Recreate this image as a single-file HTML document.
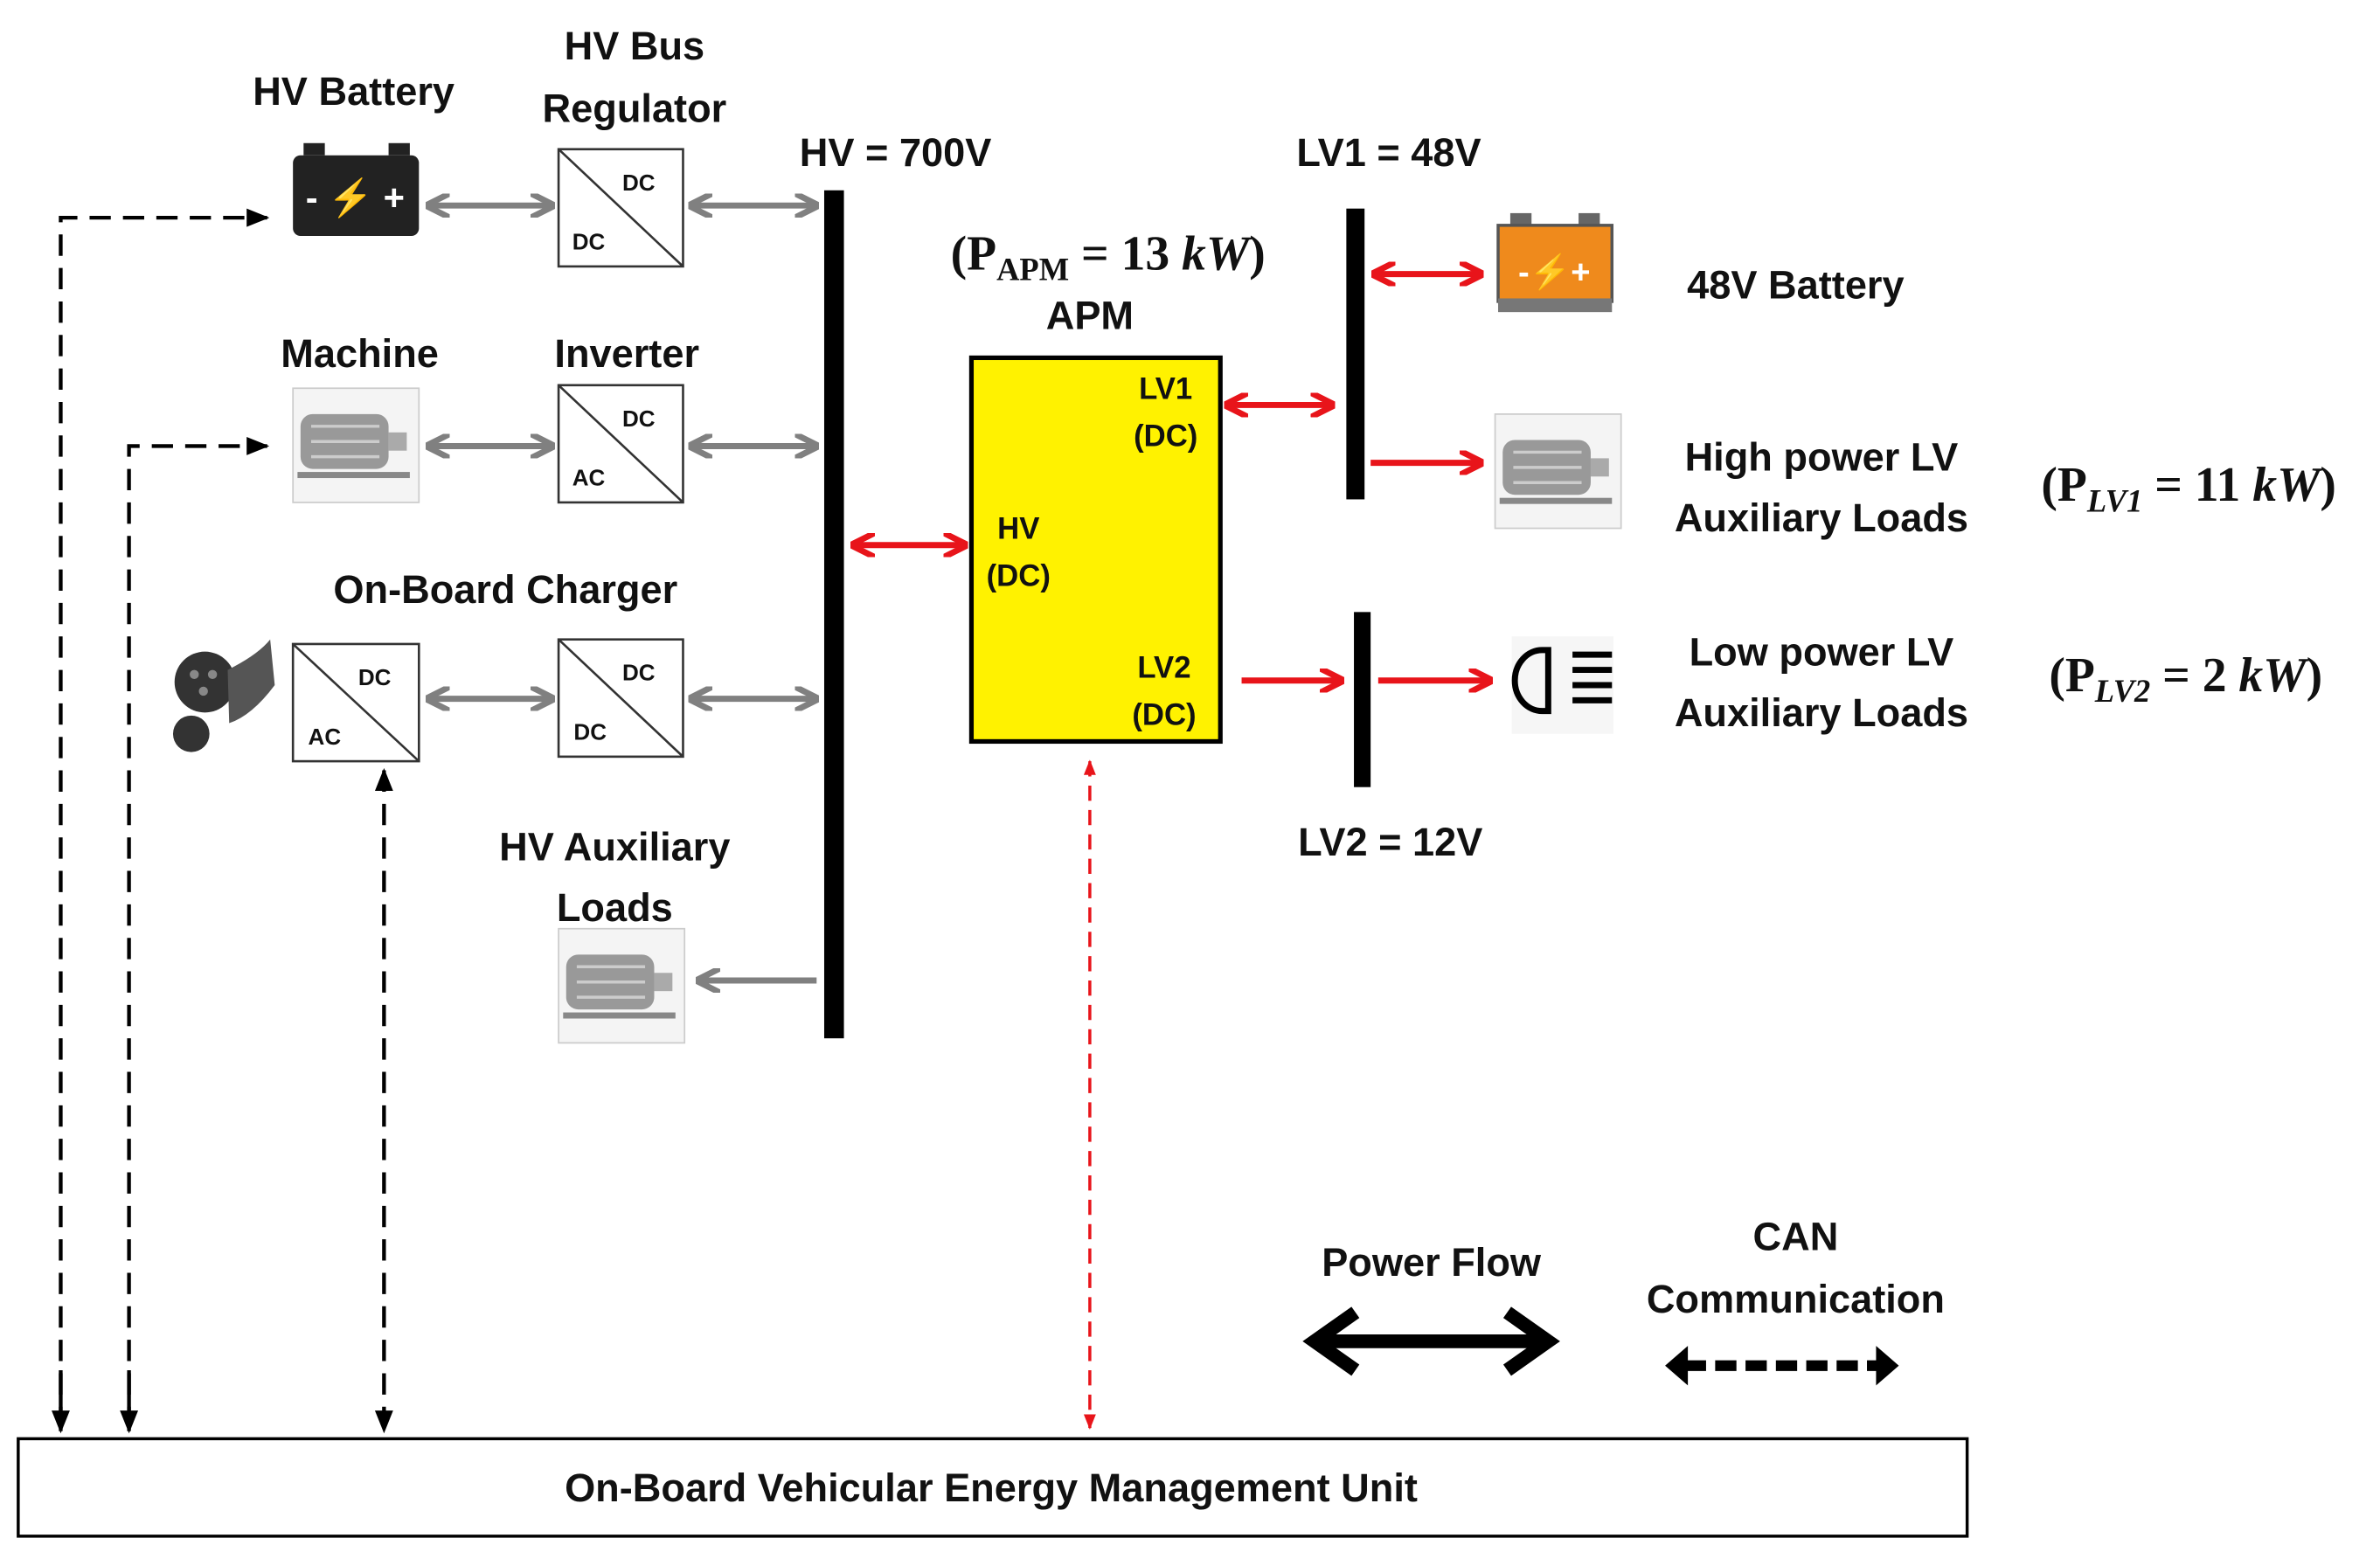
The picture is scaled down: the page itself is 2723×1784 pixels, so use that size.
<!DOCTYPE html>
<html><head><meta charset="utf-8"><style>html,body{margin:0;padding:0;background:#fff}svg{display:block}</style></head>
<body>
<svg width="2723" height="1784" viewBox="0 0 1568 1024" preserveAspectRatio="none" xmlns="http://www.w3.org/2000/svg" font-family="Liberation Sans, sans-serif" font-weight="bold">
<defs>
<marker id="ga" viewBox="0 0 10 10" refX="9" refY="5" markerWidth="4" markerHeight="4" orient="auto-start-reverse"><path d="M0,0 L10,5 L0,10" fill="none" stroke="#808080" stroke-width="2.5"/></marker>
<marker id="ra" viewBox="0 0 10 10" refX="9" refY="5" markerWidth="4" markerHeight="4" orient="auto-start-reverse"><path d="M0,0 L10,5 L0,10" fill="none" stroke="#e8141a" stroke-width="2.5"/></marker>
<marker id="rs" viewBox="0 0 10 10" refX="9" refY="5" markerWidth="5" markerHeight="5" orient="auto-start-reverse"><path d="M0,1 L10,5 L0,9z" fill="#e8141a"/></marker>
<marker id="bs" viewBox="0 0 10 10" refX="9" refY="5" markerWidth="6" markerHeight="6" orient="auto-start-reverse"><path d="M0,1 L10,5 L0,9z" fill="#000"/></marker>
</defs>
<g font-size="26" text-anchor="middle" fill="#111">
<text x="233" y="69">HV Battery</text>
<text x="418" y="39">HV Bus</text>
<text x="418" y="80">Regulator</text>
<text x="237" y="241">Machine</text>
<text x="413" y="241">Inverter</text>
<text x="333" y="396">On-Board Charger</text>
<text x="405" y="565">HV Auxiliary</text>
<text x="405" y="605">Loads</text>
<text x="590" y="109">HV = 700V</text>
<text x="915" y="109">LV1 = 48V</text>
<text x="916" y="562">LV2 = 12V</text>
<text x="718" y="216">APM</text>
<text x="1183" y="196">48V Battery</text>
<text x="1200" y="309">High power LV</text>
<text x="1200" y="349">Auxiliary Loads</text>
<text x="1200" y="437">Low power LV</text>
<text x="1200" y="477">Auxiliary Loads</text>
<text x="943" y="838">Power Flow</text>
<text x="1183" y="821">CAN</text>
<text x="1183" y="862">Communication</text>
</g>
<g font-family="Liberation Serif, serif" font-size="32" text-anchor="middle" fill="#111">
<text x="730" y="177">(P<tspan font-size="21" dy="7">APM</tspan><tspan dy="-7"> = 13 </tspan><tspan font-style="italic">kW</tspan>)</text>
<text x="1442" y="329">(P<tspan font-size="21" dy="7" font-style="italic">LV1</tspan><tspan dy="-7"> = 11 </tspan><tspan font-style="italic">kW</tspan>)</text>
<text x="1440" y="454">(P<tspan font-size="21" dy="7" font-style="italic">LV2</tspan><tspan dy="-7"> = 2 </tspan><tspan font-style="italic">kW</tspan>)</text>
</g>
<rect x="543" y="125" width="13" height="557" fill="#000"/>
<rect x="887" y="137" width="12" height="191" fill="#000"/>
<rect x="892" y="402" width="11" height="115" fill="#000"/>
<g stroke="#333" stroke-width="1.5" fill="#fff">
<rect x="368" y="98" width="82" height="77"/><line x1="368" y1="98" x2="450" y2="175"/>
<rect x="368" y="253" width="82" height="77"/><line x1="368" y1="253" x2="450" y2="330"/>
<rect x="193" y="423" width="83" height="77"/><line x1="193" y1="423" x2="276" y2="500"/>
<rect x="368" y="420" width="82" height="77"/><line x1="368" y1="420" x2="450" y2="497"/>
</g>
<g font-size="15" fill="#111">
<text x="410" y="125">DC</text><text x="377" y="164">DC</text>
<text x="410" y="280">DC</text><text x="377" y="319">AC</text>
<text x="236" y="450">DC</text><text x="203" y="489">AC</text>
<text x="410" y="447">DC</text><text x="378" y="486">DC</text>
</g>
<rect x="200" y="94" width="14" height="8" fill="#222"/><rect x="256" y="94" width="14" height="8" fill="#222"/>
<rect x="193" y="102" width="83" height="53" rx="5" fill="#222"/>
<text x="234" y="138" font-size="24" fill="#fff" text-anchor="middle">- ⚡ +</text>
<rect x="995" y="140" width="14" height="8" fill="#666"/><rect x="1040" y="140" width="14" height="8" fill="#666"/>
<rect x="987" y="148" width="75" height="50" fill="#ef8a1c" stroke="#555" stroke-width="2"/>
<rect x="987" y="196" width="75" height="9" fill="#777"/>
<text x="1024" y="186" font-size="22" fill="#fff" text-anchor="middle">-⚡+</text>
<g id="m">
<rect x="193" y="255" width="83" height="75" fill="#f4f4f4" stroke="#ccc"/>
<rect x="198" y="272" width="58" height="36" rx="8" fill="#999"/>
<g stroke="#ccc" stroke-width="2"><line x1="205" y1="280" x2="250" y2="280"/><line x1="205" y1="290" x2="250" y2="290"/><line x1="205" y1="300" x2="250" y2="300"/></g>
<rect x="256" y="284" width="12" height="12" fill="#aaa"/>
<rect x="196" y="310" width="74" height="4" fill="#888"/>
</g>
<use href="#m" transform="translate(175,355)"/>
<use href="#m" transform="translate(792,17)"/>
<rect x="996" y="418" width="67" height="64" fill="#f6f6f6"/>
<path d="M1020,427 h-4 a18,20 0 0,0 0,40 h4 z" fill="none" stroke="#000" stroke-width="4"/>
<g stroke="#000" stroke-width="4"><line x1="1036" y1="430" x2="1062" y2="430"/><line x1="1036" y1="440" x2="1062" y2="440"/><line x1="1036" y1="450" x2="1062" y2="450"/><line x1="1036" y1="460" x2="1062" y2="460"/></g>
<circle cx="135" cy="448" r="20" fill="#333"/><circle cx="126" cy="482" r="12" fill="#333"/>
<path d="M150,440 q20,-10 28,-20 l3,30 q-15,20 -30,25z" fill="#555"/>
<g fill="#888"><circle cx="128" cy="443" r="3"/><circle cx="140" cy="443" r="3"/><circle cx="134" cy="454" r="3"/></g>
<rect x="640" y="235" width="164" height="252" fill="#fff200" stroke="#000" stroke-width="3"/>
<g font-size="20" fill="#111" text-anchor="middle">
<text x="768" y="262">LV1</text><text x="768" y="293">(DC)</text>
<text x="671" y="354">HV</text><text x="671" y="385">(DC)</text>
<text x="767" y="445">LV2</text><text x="767" y="476">(DC)</text>
</g>
<g stroke="#808080" stroke-width="4" marker-start="url(#ga)" marker-end="url(#ga)">
<line x1="282" y1="135" x2="364" y2="135"/><line x1="455" y1="135" x2="538" y2="135"/>
<line x1="282" y1="293" x2="364" y2="293"/><line x1="455" y1="293" x2="538" y2="293"/>
<line x1="282" y1="459" x2="364" y2="459"/><line x1="455" y1="459" x2="538" y2="459"/>
</g>
<line x1="538" y1="644" x2="460" y2="644" stroke="#808080" stroke-width="4" marker-end="url(#ga)"/>
<g stroke="#e8141a" stroke-width="4">
<line x1="562" y1="358" x2="636" y2="358" marker-start="url(#ra)" marker-end="url(#ra)"/>
<line x1="808" y1="266" x2="878" y2="266" marker-start="url(#ra)" marker-end="url(#ra)"/>
<line x1="905" y1="180" x2="976" y2="180" marker-start="url(#ra)" marker-end="url(#ra)"/>
<line x1="903" y1="304" x2="976" y2="304" marker-end="url(#ra)"/>
<line x1="818" y1="447" x2="884" y2="447" marker-end="url(#ra)"/>
<line x1="908" y1="447" x2="982" y2="447" marker-end="url(#ra)"/>
</g>
<line x1="718" y1="500" x2="718" y2="938" stroke="#e8141a" stroke-width="2" stroke-dasharray="10,6" marker-start="url(#rs)" marker-end="url(#rs)"/>
<g stroke="#000" stroke-width="2.5" stroke-dasharray="14,8" fill="none">
<polyline points="40,938 40,143 176,143" marker-end="url(#bs)"/>
<line x1="40" y1="900" x2="40" y2="940" marker-end="url(#bs)" stroke-dasharray="none"/>
<polyline points="85,938 85,293 176,293" marker-end="url(#bs)"/>
<line x1="85" y1="900" x2="85" y2="940" marker-end="url(#bs)" stroke-dasharray="none"/>
<line x1="253" y1="506" x2="253" y2="940" marker-start="url(#bs)" marker-end="url(#bs)"/>
</g>
<line x1="870" y1="881" x2="1016" y2="881" stroke="#000" stroke-width="9"/>
<path d="M893,862 L866,881 L893,900 M993,862 L1020,881 L993,900" fill="none" stroke="#000" stroke-width="9"/>
<line x1="1110" y1="897" x2="1238" y2="897" stroke="#000" stroke-width="7" stroke-dasharray="14,6"/>
<path d="M1112,884 L1097,897 L1112,910z M1236,884 L1251,897 L1236,910z" fill="#000"/>
<rect x="12" y="945" width="1284" height="64" fill="#fff" stroke="#000" stroke-width="2"/>
<text x="653" y="986" font-size="26" text-anchor="middle" fill="#111">On-Board Vehicular Energy Management Unit</text>
</svg>
</body></html>
